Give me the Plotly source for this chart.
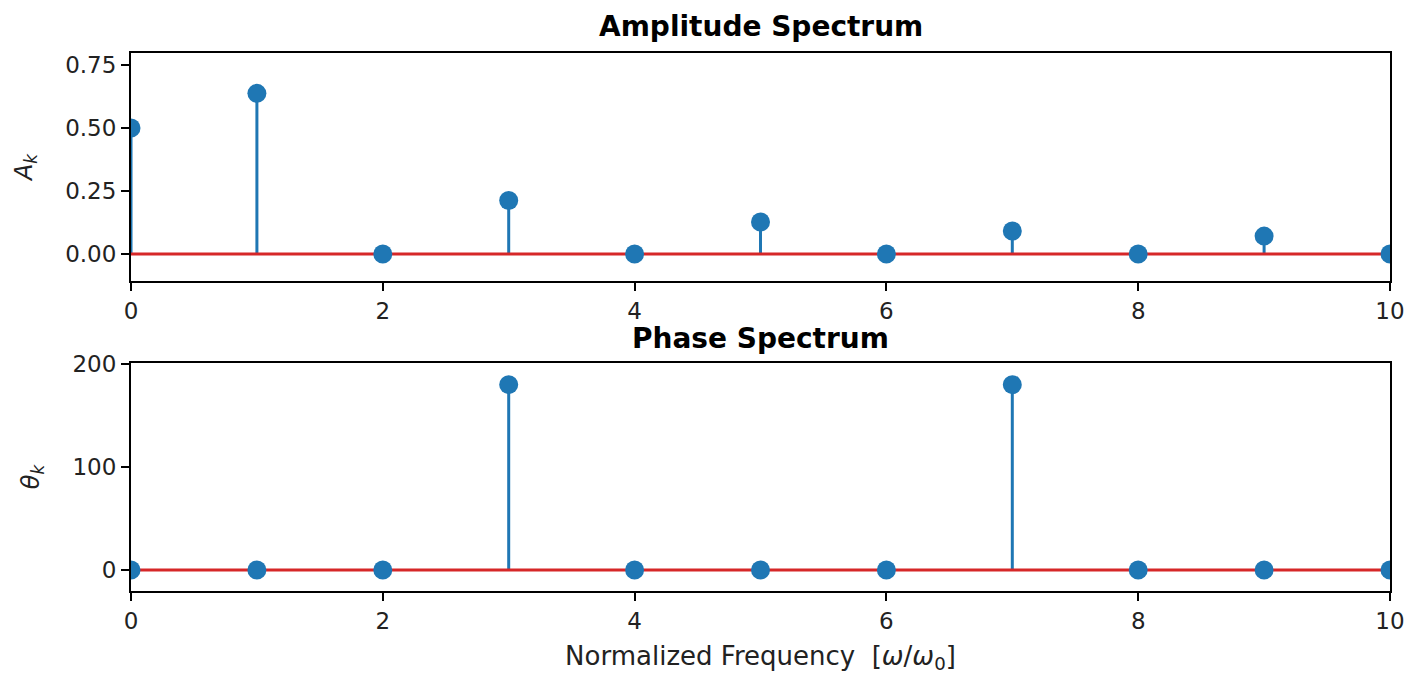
import plotly.graph_objects as go
from plotly.subplots import make_subplots

k = [0, 1, 2, 3, 4, 5, 6, 7, 8, 9, 10]
amplitude = [0.5, 0.637, 0.0, 0.212, 0.0, 0.127, 0.0, 0.091, 0.0, 0.071, 0.0]
phase = [0, 0, 0, 180, 0, 0, 0, 180, 0, 0, 0]
x_ticks = [0, 2, 4, 6, 8, 10]
amp_ticks = [0.0, 0.25, 0.5, 0.75]
amp_tick_text = ["0.00", "0.25", "0.50", "0.75"]
phase_ticks = [0, 100, 200]

BLUE = "#1f77b4"
RED = "#d62728"
FONT = "DejaVu Sans"

fig = make_subplots(rows=2, cols=1, vertical_spacing=0.1524)


def stem(xs, ys, row):
    sx, sy = [], []
    for xv, yv in zip(xs, ys):
        sx += [xv, xv, None]
        sy += [0, yv, None]
    fig.add_trace(go.Scatter(x=sx, y=sy, mode="lines",
                             line=dict(color=BLUE, width=3),
                             showlegend=False, hoverinfo="skip"), row=row, col=1)
    fig.add_trace(go.Scatter(x=[xs[0], xs[-1]], y=[0, 0], mode="lines",
                             line=dict(color=RED, width=3),
                             showlegend=False, hoverinfo="skip"), row=row, col=1)
    fig.add_trace(go.Scatter(x=xs, y=ys, mode="markers",
                             marker=dict(color=BLUE, size=19),
                             cliponaxis=True, showlegend=False), row=row, col=1)


stem(k, amplitude, 1)
stem(k, phase, 2)

axis_common = dict(showline=True, linecolor="black", linewidth=2, mirror=True,
                   ticks="outside", ticklen=8, tickwidth=1.5, tickcolor="black",
                   showgrid=False, zeroline=False, automargin=False,
                   layer="above traces",
                   tickfont=dict(family=FONT, size=23, color="#222222"))

fig.update_xaxes(range=[0, 10], tickvals=x_ticks, **axis_common)
fig.update_yaxes(**axis_common)
fig.update_yaxes(range=[-0.107, 0.797], tickvals=amp_ticks, ticktext=amp_tick_text,
                 title=dict(text="<i>A<sub>k</sub></i>", standoff=26,
                            font=dict(family=FONT, size=24, color="#222222")),
                 row=1, col=1)
fig.update_yaxes(range=[-20.4, 201], tickvals=phase_ticks,
                 title=dict(text="<i>θ<sub>k</sub></i>", standoff=26,
                            font=dict(family=FONT, size=24, color="#222222")),
                 row=2, col=1)
fig.update_xaxes(title=dict(text="Normalized Frequency  [<i>ω</i>/<i>ω</i><sub>0</sub>]",
                            standoff=14,
                            font=dict(family=FONT, size=26, color="#222222")),
                 row=2, col=1)

fig.add_annotation(text="<b>Amplitude Spectrum</b>", xref="paper", yref="paper",
                   x=0.5, y=1.050, xanchor="center", yanchor="middle", showarrow=False,
                   font=dict(family=FONT, size=28, color="black"))
fig.add_annotation(text="<b>Phase Spectrum</b>", xref="paper", yref="paper",
                   x=0.5, y=0.470, xanchor="center", yanchor="middle", showarrow=False,
                   font=dict(family=FONT, size=28, color="black"))

fig.update_layout(width=1408, height=674, margin=dict(l=131, r=18, t=53, b=83),
                  plot_bgcolor="white", paper_bgcolor="white",
                  font=dict(family=FONT, color="black"))

fig.write_html("out.html")
